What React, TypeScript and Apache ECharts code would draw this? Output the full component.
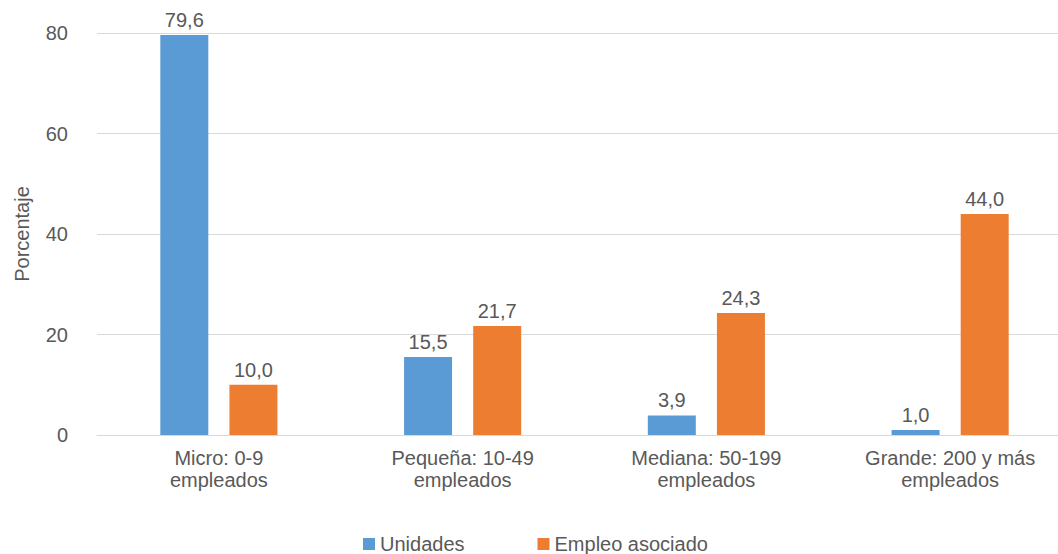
import React, { useEffect, useRef } from "react";
import * as echarts from "echarts";

const categories = [
  "Micro: 0-9\nempleados",
  "Pequeña: 10-49\nempleados",
  "Mediana: 50-199\nempleados",
  "Grande: 200 y más\nempleados",
];
const unidades = [79.6, 15.5, 3.9, 1.0];
const empleo = [10.0, 21.7, 24.3, 44.0];
const seriesNames = ["Unidades", "Empleo asociado"];
const yTicks = { min: 0, max: 80, interval: 20 };

const FONT = "Liberation Sans, Arial, Helvetica, sans-serif";
const TEXT = "#595959";

const fmt = (v: number) => v.toFixed(1).replace(".", ",");

export default function App() {
  const ref = useRef<HTMLDivElement>(null);
  useEffect(() => {
    if (!ref.current) return;
    const chart = echarts.init(ref.current, undefined, { renderer: "svg" });
    const label = {
      show: true,
      position: "top" as const,
      distance: 5,
      color: TEXT,
      fontSize: 20,
      fontFamily: FONT,
      formatter: (p: any) => fmt(p.value),
    };
    chart.setOption({
      animation: false,
      backgroundColor: "#ffffff",
      textStyle: { fontFamily: FONT, color: TEXT },
      grid: { left: 97, top: 33, height: 402, width: 975, containLabel: false },
      legend: {
        data: seriesNames,
        left: 358,
        top: 529,
        icon: "rect",
        itemWidth: 12,
        itemHeight: 12,
        itemGap: 73,
        textStyle: { color: TEXT, fontSize: 20, fontFamily: FONT, lineHeight: 20 },
      },
      xAxis: {
        type: "category",
        data: categories,
        axisLine: { show: true, lineStyle: { color: "#d9d9d9", width: 1 } },
        axisTick: { show: false },
        axisLabel: {
          color: TEXT,
          fontSize: 20,
          fontFamily: FONT,
          lineHeight: 22,
          margin: 12,
          interval: 0,
        },
      },
      yAxis: {
        type: "value",
        min: yTicks.min,
        max: yTicks.max,
        interval: yTicks.interval,
        name: "Porcentaje",
        nameLocation: "middle",
        nameRotate: 90,
        nameGap: 65,
        nameTextStyle: { color: TEXT, fontSize: 20, fontFamily: FONT },
        axisLine: { show: false },
        axisTick: { show: false },
        axisLabel: { color: TEXT, fontSize: 20, fontFamily: FONT, margin: 29 },
        splitLine: { lineStyle: { color: "#d9d9d9", width: 1 } },
      },
      series: [
        {
          name: seriesNames[0],
          type: "bar",
          data: unidades,
          barWidth: 48,
          barGap: "44%",
          itemStyle: { color: "#5B9BD5" },
          label,
        },
        {
          name: seriesNames[1],
          type: "bar",
          data: empleo,
          barWidth: 48,
          barGap: "44%",
          itemStyle: { color: "#ED7D31" },
          label,
        },
      ],
    });
    return () => chart.dispose();
  }, []);
  return (
    <div style={{ position: "fixed", left: 0, top: 0, width: 1058, height: 554, overflow: "hidden" }}>
      <div ref={ref} style={{ width: 1080, height: 554 }} />
    </div>
  );
}
